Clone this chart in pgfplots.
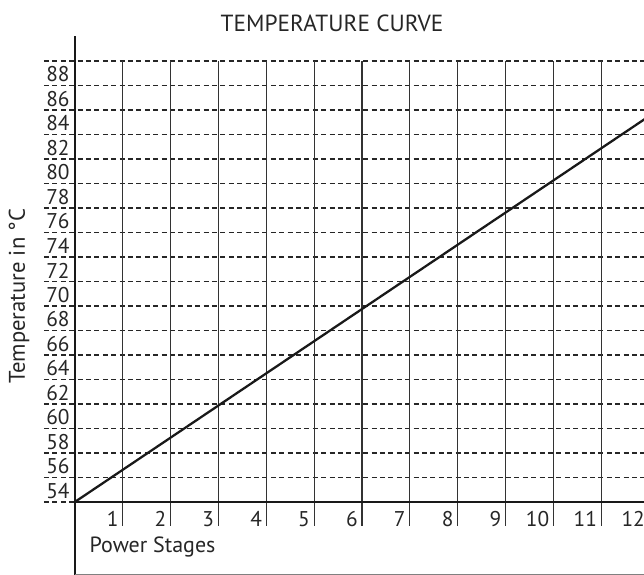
\documentclass[border=0pt]{standalone}
\usepackage{fontspec}
\setmainfont{PT Sans}
\usepackage{pgfplots}
\pgfplotsset{compat=1.18}
\begin{document}
\begin{tikzpicture}
\begin{axis}[
  at={(56.1pt,-376.5pt)}, anchor=south west,
  scale only axis, width=430.74pt, height=330.75pt,
  xmin=0, xmax=12, ymin=54, ymax=90,
  clip=false,
  axis line style={draw=none},
  major tick length=0pt,
  xtick={1,...,12}, ytick={54,56,...,88},
  /pgf/number format/assume math mode=true,
  ticklabel style={font=\fontsize{16pt}{19pt}\selectfont, inner sep=0pt, text=black!85},
  yticklabel style={anchor=south east, xshift=-3.75pt, yshift=2.25pt},
  xticklabel style={anchor=north east, xshift=-3pt, yshift=-6.75pt},
]
% dashed horizontal lines
\pgfplotsinvokeforeach{54,56,...,90}{
  \draw[black!85, line width=1.25pt, dash pattern=on 3.7pt off 2.6pt] (axis cs:-0.644,#1) -- (axis cs:12,#1);
}
% vertical grid lines
\pgfplotsinvokeforeach{1,...,12}{
  \draw[black!80, line width=0.9pt] (axis cs:#1,90) -- (axis cs:#1,52.04);
}
% axis lines
\draw[black!90, line width=1.5pt] (axis cs:0,92.04) -- (axis cs:0,48.0);
\draw[black!90, line width=1.5pt] (axis cs:0,54) -- (axis cs:12,54);
\draw[black!50, line width=0.8pt] (axis cs:0,48.12) -- (axis cs:12,48.12);
% data
\addplot[black!90, line width=1.7pt] coordinates {(0,54) (12,85.5)};
% texts
\node[rotate=90, font=\fontsize{17pt}{20pt}\selectfont, text=black!85] at (axis cs:-1.166,70.8) {Temperature in °C};
\node[anchor=base west, font=\fontsize{16.5pt}{20pt}\selectfont, text=black!85] at (axis cs:0.213,49.84) {Power Stages};
\node[anchor=base, font=\fontsize{17.5pt}{21pt}\selectfont, text=black!85] at (axis cs:5.374,92.37) {TEMPERATURE CURVE};
\end{axis}
\pgfresetboundingbox
\path[use as bounding box] (0,0) rectangle (483pt,-431.25pt);
\end{tikzpicture}
\end{document}
